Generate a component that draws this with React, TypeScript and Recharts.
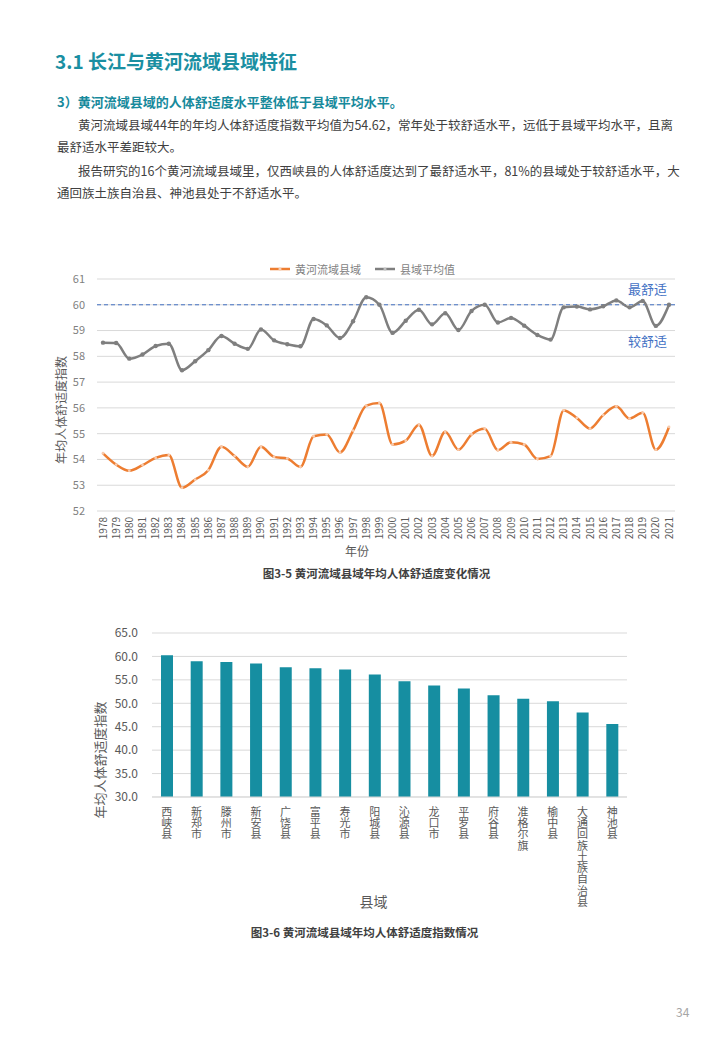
import React from 'react';
import {
  LineChart,
  Line,
  BarChart,
  Bar,
  XAxis,
  YAxis,
  CartesianGrid,
  ReferenceLine,
  Legend,
} from 'recharts';

const FONT = '"Noto Sans CJK SC", "Noto Sans", sans-serif';
const TEAL = '#1a8fa2';

// 图3-5 年份
const years = [
  '1978', '1979', '1980', '1981', '1982', '1983', '1984', '1985', '1986', '1987', '1988',
  '1989', '1990', '1991', '1992', '1993', '1994', '1995', '1996', '1997', '1998', '1999',
  '2000', '2001', '2002', '2003', '2004', '2005', '2006', '2007', '2008', '2009', '2010',
  '2011', '2012', '2013', '2014', '2015', '2016', '2017', '2018', '2019', '2020', '2021',
];

// 黄河流域县域
const yellowRiver = [
  54.24, 53.8, 53.56, 53.78, 54.06, 54.17, 52.9, 53.22, 53.58, 54.49, 54.13,
  53.71, 54.49, 54.1, 54.04, 53.71, 54.9, 54.97, 54.27, 55.12, 56.09, 56.19,
  54.58, 54.73, 55.35, 54.13, 55.07, 54.38, 54.97, 55.19, 54.36, 54.67, 54.58,
  54.02, 54.13, 55.9, 55.61, 55.2, 55.72, 56.06, 55.59, 55.81, 54.38, 55.26,
];

// 县域平均值
const countyAvg = [
  58.53, 58.52, 57.91, 58.07, 58.4, 58.49, 57.46, 57.81, 58.24, 58.79, 58.49,
  58.29, 59.04, 58.62, 58.47, 58.39, 59.45, 59.2, 58.71, 59.36, 60.29, 60.0,
  58.91, 59.38, 59.81, 59.24, 59.67, 59.02, 59.76, 60.0, 59.31, 59.49, 59.19,
  58.83, 58.65, 59.9, 59.93, 59.82, 59.94, 60.17, 59.9, 60.15, 59.18, 60.0,
];

const lineTicks = [52, 53, 54, 55, 56, 57, 58, 59, 60, 61];

// 图3-6 县域
const counties = [
  '西峡县', '新郑市', '滕州市', '新安县', '广饶县', '富平县', '寿光市', '阳城县',
  '沁源县', '龙口市', '平罗县', '府谷县', '准格尔旗', '榆中县', '大通回族土族自治县', '神池县',
];
const countyIndex = [
  60.24, 58.97, 58.83, 58.47, 57.69, 57.48, 57.19, 56.13,
  54.71, 53.79, 53.15, 51.73, 50.95, 50.45, 48.04, 45.6,
];
const barTicks = [30, 35, 40, 45, 50, 55, 60, 65];

const lineData = years.map((year, i) => ({
  year,
  yellowRiver: yellowRiver[i],
  countyAvg: countyAvg[i],
}));

const barData = counties.map((name, i) => ({ name, value: countyIndex[i] }));

const legendItems = [
  { name: '黄河流域县域', color: '#ed7d31', dot: '#f8cbad' },
  { name: '县域平均值', color: '#7f7f7f', dot: '#bfbfbf' },
];

const YearTick = (props: any) => {
  const { x, y, payload } = props;
  return (
    <text
      x={x}
      y={y}
      transform={`rotate(-90, ${x}, ${y})`}
      textAnchor="end"
      dy="0.35em"
      fontSize={10}
      fill="#595959"
      fontFamily={FONT}
    >
      {payload.value}
    </text>
  );
};

// 竖排县名
const CountyTick = (props: any) => {
  const { x, y, payload } = props;
  return (
    <text
      x={x}
      y={y + 1}
      textAnchor="start"
      fontSize={11}
      letterSpacing={0.3}
      fill="#595959"
      fontFamily={FONT}
      style={{ writingMode: 'vertical-rl', textOrientation: 'upright' }}
    >
      {payload.value}
    </text>
  );
};

const renderLegend = () => (
  <div
    style={{
      display: 'flex',
      justifyContent: 'center',
      alignItems: 'center',
      gap: 14,
      height: 20,
      fontSize: 11,
      color: '#7f7f7f',
      fontFamily: FONT,
    }}
  >
    {legendItems.map((item) => (
      <div key={item.name} style={{ display: 'flex', alignItems: 'center', gap: 5 }}>
        <svg width={20} height={8}>
          <line x1={0} y1={4} x2={20} y2={4} stroke={item.color} strokeWidth={2.5} />
          <circle cx={10} cy={4} r={1.6} fill={item.dot} />
        </svg>
        <span>{item.name}</span>
      </div>
    ))}
  </div>
);

const levelLabel = (p: any) => {
  const vb = p.viewBox;
  const right = vb.x + vb.width - 8;
  return (
    <g fontFamily={FONT} fontSize={13} fill="#4472c4">
      <text x={right} y={vb.y - 11} textAnchor="end">最舒适</text>
      <text x={right} y={vb.y + 41} textAnchor="end">较舒适</text>
    </g>
  );
};

const lineYLabel = (p: any) => {
  const vb = p.viewBox;
  const cx = vb.x + 12;
  const cy = vb.y + vb.height / 2 + 15;
  return (
    <text
      x={cx}
      y={cy}
      transform={`rotate(-90, ${cx}, ${cy})`}
      textAnchor="middle"
      dy="0.35em"
      fontSize={12}
      fill="#595959"
      fontFamily={FONT}
    >
      年均人体舒适度指数
    </text>
  );
};

const barYLabel = (p: any) => {
  const vb = p.viewBox;
  const cx = vb.x + 20;
  const cy = vb.y + vb.height / 2 + 45;
  return (
    <text
      x={cx}
      y={cy}
      transform={`rotate(-90, ${cx}, ${cy})`}
      textAnchor="middle"
      dy="0.35em"
      fontSize={13}
      fill="#595959"
      fontFamily={FONT}
    >
      年均人体舒适度指数
    </text>
  );
};

const para: React.CSSProperties = {
  position: 'absolute',
  fontSize: 12.5,
  lineHeight: '14px',
  color: '#404040',
  whiteSpace: 'nowrap',
};

export default function App() {
  return (
    <div
      style={{
        position: 'absolute',
        left: 0,
        top: 0,
        width: 720,
        height: 1040,
        background: '#fff',
        fontFamily: FONT,
        overflow: 'hidden',
      }}
    >
      <div style={{ position: 'absolute', left: 55, top: 50, fontSize: 19, lineHeight: '22px', fontWeight: 700, color: TEAL }}>
        3.1 长江与黄河流域县域特征
      </div>
      <div style={{ position: 'absolute', left: 57, top: 94, fontSize: 13, lineHeight: '16px', fontWeight: 700, color: '#178a9c' }}>
        3）黄河流域县域的人体舒适度水平整体低于县域平均水平。
      </div>
      <div style={{ ...para, left: 78, top: 118, width: 582, textAlign: 'justify', textAlignLast: 'justify' }}>
        黄河流域县域44年的年均人体舒适度指数平均值为54.62，常年处于较舒适水平，远低于县域平均水平，且离
      </div>
      <div style={{ ...para, left: 57, top: 140 }}>最舒适水平差距较大。</div>
      <div style={{ ...para, left: 78, top: 164, width: 582, textAlign: 'justify', textAlignLast: 'justify' }}>
        报告研究的16个黄河流域县域里，仅西峡县的人体舒适度达到了最舒适水平，81%的县域处于较舒适水平，大
      </div>
      <div style={{ ...para, left: 57, top: 186 }}>通回族土族自治县、神池县处于不舒适水平。</div>

      <div style={{ position: 'absolute', left: 50, top: 250 }}>
        <LineChart
          width={640}
          height={310}
          data={lineData}
          margin={{ top: 9, right: 15, bottom: 0, left: 0 }}
        >
          <CartesianGrid vertical={false} stroke="#d9d9d9" />
          <Legend verticalAlign="top" content={renderLegend} />
          <XAxis
            dataKey="year"
            scale="point"
            padding={{ left: 6, right: 6 }}
            interval={0}
            tick={<YearTick />}
            tickLine={false}
            axisLine={false}
            tickMargin={0}
            height={49}
            label={{ value: '年份', position: 'insideBottom', offset: 4, dx: -29, fontSize: 12, fill: '#595959' }}
          />
          <YAxis
            domain={[52, 61]}
            ticks={lineTicks}
            width={47}
            tickLine={false}
            axisLine={false}
            tickMargin={6}
            tick={{ fontSize: 11, fill: '#7f7f7f' }}
            label={lineYLabel}
          />
          <ReferenceLine y={60} stroke="#4472c4" strokeDasharray="4 3" strokeWidth={1} label={levelLabel} />
          <Line
            type="monotone"
            dataKey="yellowRiver"
            name="黄河流域县域"
            stroke="#ed7d31"
            strokeWidth={2.5}
            dot={{ r: 1.4, fill: '#f8cbad', stroke: 'none' }}
            isAnimationActive={false}
          />
          <Line
            type="monotone"
            dataKey="countyAvg"
            name="县域平均值"
            stroke="#7f7f7f"
            strokeWidth={2.5}
            dot={{ r: 2.2, fill: '#7f7f7f', stroke: 'none' }}
            isAnimationActive={false}
          />
        </LineChart>
      </div>

      <div style={{ position: 'absolute', left: 0, top: 565, width: 753, textAlign: 'center', fontSize: 11.5, lineHeight: '16px', fontWeight: 700, color: '#404040' }}>
        图3-5 黄河流域县域年均人体舒适度变化情况
      </div>

      <div style={{ position: 'absolute', left: 80, top: 610 }}>
        <BarChart
          width={560}
          height={302}
          data={barData}
          margin={{ top: 23, right: 13, bottom: 0, left: 0 }}
          barCategoryGap={0}
        >
          <CartesianGrid vertical={false} stroke="#d9d9d9" />
          <XAxis
            dataKey="name"
            interval={0}
            tick={<CountyTick />}
            tickLine={false}
            axisLine={{ stroke: '#d9d9d9' }}
            height={115}
            label={{ value: '县域', position: 'insideBottom', offset: 5, dx: -16, fontSize: 14, fill: '#595959' }}
          />
          <YAxis
            domain={[30, 65]}
            ticks={barTicks}
            width={72}
            tickLine={false}
            axisLine={false}
            tickMargin={8}
            tickFormatter={(v: number) => v.toFixed(1)}
            tick={{ fontSize: 12, fill: '#595959' }}
            label={barYLabel}
          />
          <Bar dataKey="value" fill="#168ea1" barSize={12} isAnimationActive={false} />
        </BarChart>
      </div>

      <div style={{ position: 'absolute', left: 0, top: 924, width: 729, textAlign: 'center', fontSize: 11.5, lineHeight: '16px', fontWeight: 700, color: '#404040' }}>
        图3-6 黄河流域县域年均人体舒适度指数情况
      </div>

      <div style={{ position: 'absolute', left: 676, top: 1004, fontSize: 12, lineHeight: '16px', color: '#a6a6a6' }}>34</div>
    </div>
  );
}
